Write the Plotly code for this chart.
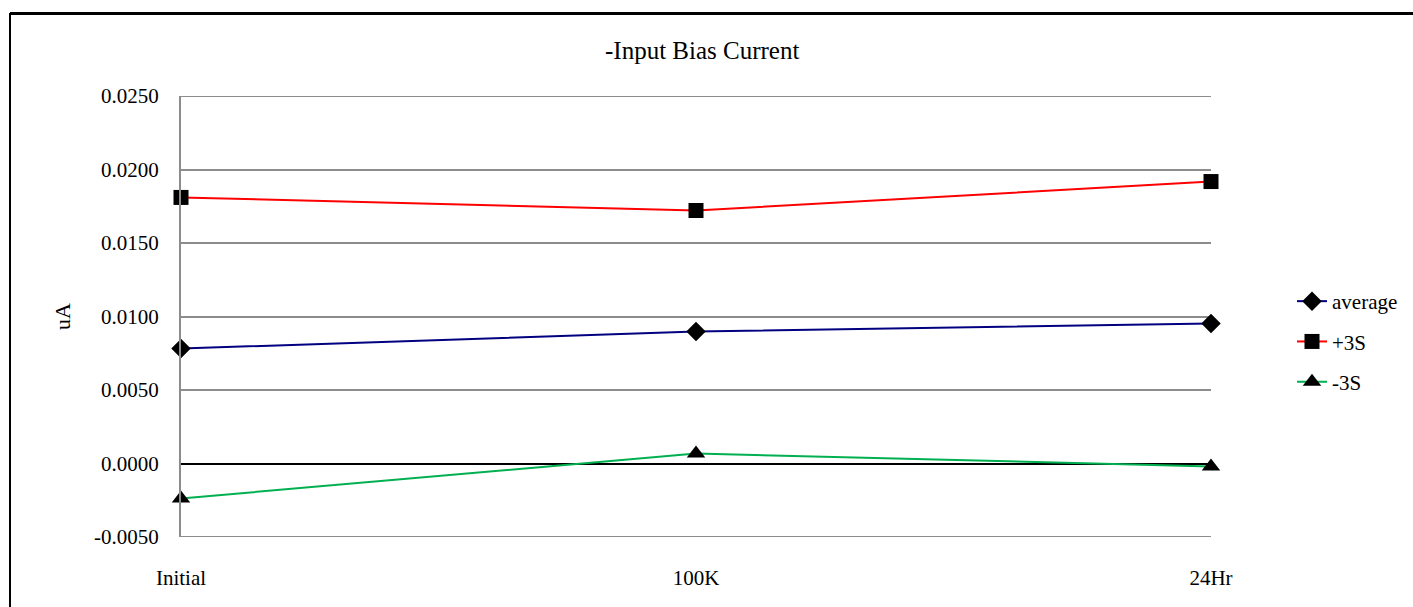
import plotly.graph_objects as go

# Test points and series values (uA)
stages = ["Initial", "100K", "24Hr"]
average = [0.00782, 0.00898, 0.00952]
plus_3s = [0.01810, 0.01721, 0.01918]
minus_3s = [-0.00238, 0.00068, -0.00020]

y_ticks = [-0.005, 0.0, 0.005, 0.010, 0.015, 0.020, 0.025]
y_tick_text = ["-0.0050", "0.0000", "0.0050", "0.0100", "0.0150", "0.0200", "0.0250"]

FONT = "Liberation Serif"
W, H = 1413, 607
L, R, T, B = 181, 202, 96, 70
PW, PH = W - L - R, H - T - B
GRID = "#8c8c8c"

series = [
    ("average", average, "#000080", "diamond", 15),
    ("+3S", plus_3s, "#ff0000", "square", 15),
    ("-3S", minus_3s, "#00b050", "triangle-up", 16),
]

fig = go.Figure()
for name, vals, color, symbol, size in series:
    fig.add_trace(go.Scatter(
        x=stages, y=vals, name=name, legendgroup=name,
        mode="lines+markers",
        line=dict(color=color, width=2),
        marker=dict(symbol=symbol, size=size, color="black"),
        cliponaxis=False,
    ))

# gridlines at the two ends of the value range (plotly drops those at the edges)
edge_grid = [
    dict(type="line", xref="paper", yref="y", x0=0, x1=1, y0=v, y1=v,
         layer="below", line=dict(color=GRID, width=2))
    for v in (y_ticks[0], y_ticks[-1])
]

# outer chart frame: top and left edges
frame = [
    dict(type="line", xref="paper", yref="paper",
         x0=(10 - L) / PW, x1=(W + 5 - L) / PW,
         y0=1 + (T - 13.5) / PH, y1=1 + (T - 13.5) / PH,
         line=dict(color="black", width=3)),
    dict(type="line", xref="paper", yref="paper",
         x0=(10 - L) / PW, x1=(10 - L) / PW,
         y0=1 + (T - 13) / PH, y1=-(B + 5) / PH,
         line=dict(color="black", width=2)),
]

fig.update_layout(
    width=W, height=H,
    margin=dict(l=L, r=R, t=T, b=B, autoexpand=False),
    paper_bgcolor="white", plot_bgcolor="white",
    font=dict(family=FONT, size=21, color="black"),
    showlegend=True,
    legend=dict(
        x=(1292 - L) / PW, y=1 - (281 - T) / PH,
        xanchor="left", yanchor="top",
        font=dict(family=FONT, size=21, color="black"),
        tracegroupgap=10, bgcolor="rgba(0,0,0,0)",
    ),
    xaxis=dict(
        type="category", range=[0, 2],
        showgrid=False, showline=False, zeroline=False,
        ticks="outside", ticklen=22, tickcolor="rgba(0,0,0,0)",
        tickfont=dict(family=FONT, size=21, color="black"),
    ),
    yaxis=dict(
        range=[y_ticks[0], y_ticks[-1]],
        tickvals=y_ticks, ticktext=y_tick_text,
        showgrid=True, gridcolor=GRID, gridwidth=2,
        zeroline=True, zerolinecolor="black", zerolinewidth=1.5,
        showline=True, linecolor=GRID, linewidth=2,
        ticks="outside", ticklen=16, tickcolor="rgba(0,0,0,0)",
        tickfont=dict(family=FONT, size=21, color="black"),
    ),
    title=dict(
        text="-Input Bias Current", x=715 / W, xanchor="center",
        y=1 - 50 / H, yanchor="middle", xref="paper",
        font=dict(family=FONT, size=25, color="black"),
    ),
    annotations=[dict(
        text="uA", xref="paper", yref="paper",
        x=(62 - L) / PW, y=1 - (317 - T) / PH,
        xanchor="center", yanchor="middle", textangle=-90, showarrow=False,
        font=dict(family=FONT, size=22, color="black"),
    )],
    shapes=edge_grid + frame,
)

fig.write_html("out.html")
